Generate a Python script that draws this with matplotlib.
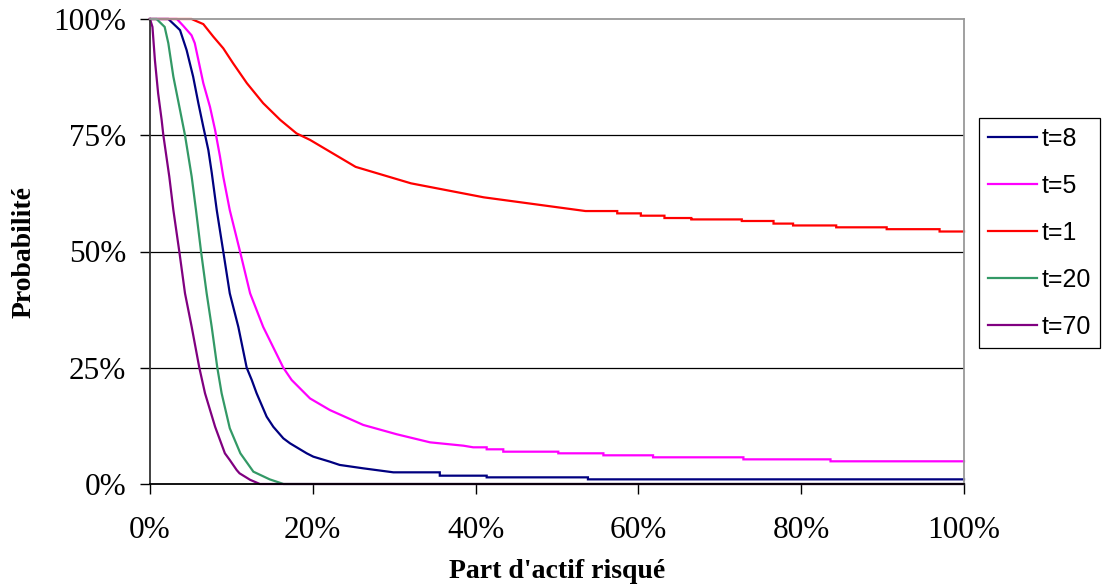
import matplotlib
matplotlib.use("Agg")
import matplotlib.pyplot as plt

# ---- data ----
x_t8 = [0, 0.0225, 0.0328, 0.0369, 0.045, 0.053, 0.0594, 0.0655, 0.0717, 0.0758, 0.082, 0.090, 0.098,
        0.1085, 0.1188, 0.125, 0.131, 0.1433, 0.1515, 0.1638, 0.172, 0.1925, 0.2006, 0.221, 0.233,
        0.262, 0.299, 0.356, 0.356, 0.4136, 0.4136, 0.538, 0.538, 1.0]
y_t8 = [1.0, 1.0, 0.983, 0.976, 0.933, 0.876, 0.819, 0.768, 0.718, 0.67, 0.589, 0.5, 0.41,
        0.338, 0.25, 0.2237, 0.195, 0.1448, 0.123, 0.0982, 0.0875, 0.066, 0.0588, 0.048, 0.041,
        0.0337, 0.0251, 0.0251, 0.0179, 0.0179, 0.0143, 0.0143, 0.010, 0.010]

x_t5 = [0, 0.033, 0.041, 0.051, 0.055, 0.0594, 0.0655, 0.0737, 0.080, 0.086, 0.090, 0.098, 0.1106,
        0.123, 0.139, 0.1638, 0.174, 0.1966, 0.221, 0.262, 0.303, 0.344, 0.385, 0.397, 0.4136, 0.4136,
        0.434, 0.434, 0.5016, 0.5016, 0.557, 0.557, 0.618, 0.618, 0.729, 0.729, 0.836, 0.836, 1.0]
y_t5 = [1.0, 1.0, 0.985, 0.965, 0.948, 0.912, 0.862, 0.811, 0.761, 0.704, 0.661, 0.589, 0.5,
        0.41, 0.338, 0.25, 0.2237, 0.184, 0.159, 0.127, 0.107, 0.0896, 0.0824, 0.0789, 0.0789, 0.0746,
        0.0746, 0.0695, 0.0695, 0.066, 0.066, 0.0617, 0.0617, 0.0574, 0.0574, 0.053, 0.053, 0.0488, 0.0488]

x_t1 = [0, 0.051, 0.0655, 0.0778, 0.090, 0.102, 0.119, 0.139, 0.160, 0.180, 0.1966, 0.2526, 0.3206,
        0.410, 0.535, 0.574, 0.574, 0.603, 0.603, 0.632, 0.632, 0.665, 0.665, 0.727, 0.727, 0.766,
        0.766, 0.790, 0.790, 0.843, 0.843, 0.905, 0.905, 0.970, 0.970, 1.0]
y_t1 = [1.0, 1.0, 0.989, 0.962, 0.937, 0.905, 0.862, 0.819, 0.783, 0.754, 0.740, 0.682, 0.6466,
        0.6165, 0.587, 0.587, 0.582, 0.582, 0.577, 0.577, 0.572, 0.572, 0.569, 0.569, 0.5656, 0.5656,
        0.560, 0.560, 0.556, 0.556, 0.552, 0.552, 0.548, 0.548, 0.543, 0.543]

x_t20 = [0, 0.008, 0.018, 0.0225, 0.0287, 0.0369, 0.043, 0.0512, 0.0565, 0.0627, 0.0696, 0.0758,
         0.0827, 0.088, 0.098, 0.111, 0.127, 0.147, 0.164, 1.0]
y_t20 = [1.0, 1.0, 0.983, 0.948, 0.876, 0.804, 0.75, 0.661, 0.589, 0.5, 0.41, 0.338,
         0.25, 0.195, 0.12, 0.066, 0.0265, 0.010, 0.0, 0.0]

x_t70 = [0, 0.003, 0.006, 0.010, 0.0143, 0.0164, 0.0237, 0.0287, 0.036, 0.043, 0.0512, 0.0606,
         0.0676, 0.080, 0.092, 0.098, 0.1065, 0.11, 0.123, 0.135, 1.0]
y_t70 = [1.0, 0.983, 0.912, 0.840, 0.783, 0.75, 0.661, 0.589, 0.5, 0.41, 0.338, 0.25,
         0.195, 0.123, 0.066, 0.0516, 0.030, 0.023, 0.009, 0.0, 0.0]

labels = ["t=8", "t=5", "t=1", "t=20", "t=70"]
colors = ["#000080", "#FF00FF", "#FF0000", "#339966", "#800080"]
xticks = [0, 0.2, 0.4, 0.6, 0.8, 1.0]
xtick_labels = ["0%", "20%", "40%", "60%", "80%", "100%"]
yticks = [0, 0.25, 0.5, 0.75, 1.0]
ytick_labels = ["0%", "25%", "50%", "75%", "100%"]

series = [(x_t8, y_t8), (x_t5, y_t5), (x_t1, y_t1), (x_t20, y_t20), (x_t70, y_t70)]

fig = plt.figure(figsize=(11.06, 5.87), dpi=100)
ax = fig.add_axes([150 / 1106, 103 / 587, 814 / 1106, 465 / 587])

for (xs, ys), lab, col in zip(series, labels, colors):
    ax.plot(xs, ys, color=col, lw=1.6, label=lab, clip_on=False, solid_joinstyle="miter")

ax.set_xlim(0, 1)
ax.set_ylim(0, 1)
ax.set_xticks(xticks)
ax.set_xticklabels(xtick_labels)
ax.set_yticks(yticks)
ax.set_yticklabels(ytick_labels)

serif = ["Liberation Serif", "DejaVu Serif"]
for lbl in ax.get_xticklabels() + ax.get_yticklabels():
    lbl.set_fontfamily(serif)
    lbl.set_fontsize(22.5)

ax.tick_params(axis="both", direction="out", length=7, width=1, color="black")
ax.tick_params(axis="y", pad=10)
ax.tick_params(axis="x", pad=16)

for y in [0.25, 0.5, 0.75]:
    ax.axhline(y, color="black", lw=0.9, zorder=0)

ax.spines["left"].set_color("#333333")
ax.spines["bottom"].set_color("black")
ax.spines["top"].set_color("#999999")
ax.spines["right"].set_color("#999999")
for s in ax.spines.values():
    s.set_linewidth(1.3)

ax.set_xlabel("Part d'actif risqué", fontfamily=serif, fontweight="bold", fontsize=20, labelpad=10)
ax.set_ylabel("Probabilité", fontfamily=serif, fontweight="bold", fontsize=20, labelpad=12)

leg = ax.legend(loc="center left", bbox_to_anchor=(979 / 1106, (587 - 233) / 587), bbox_transform=fig.transFigure,
                frameon=True, fancybox=False, framealpha=1, edgecolor="black",
                prop={"family": ["Liberation Sans", "DejaVu Sans"], "size": 18},
                handlelength=1.95, handletextpad=0.2, labelspacing=0.92, borderpad=0.35, borderaxespad=0)
leg.get_frame().set_linewidth(0.9)

fig.savefig("out.png", dpi=100)
